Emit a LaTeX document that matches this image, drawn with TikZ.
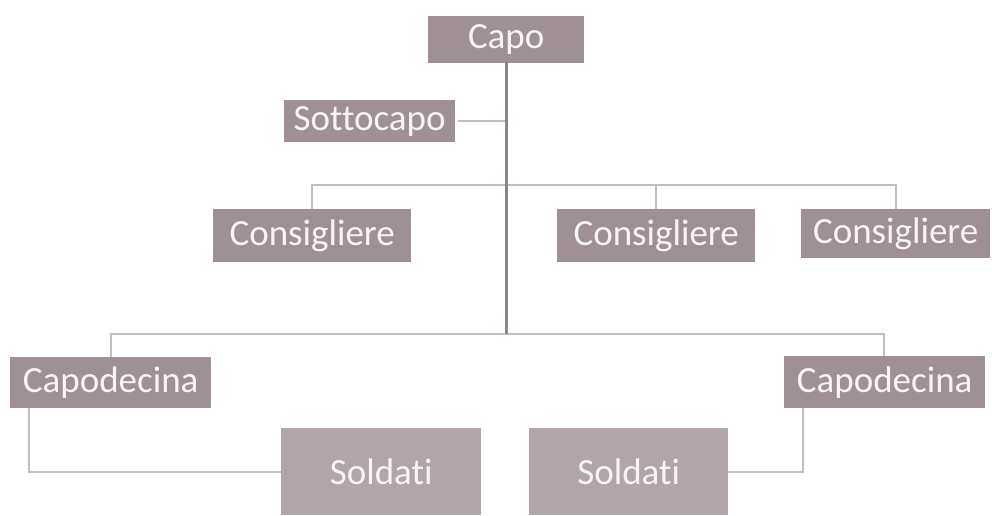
\documentclass[tikz,border=0pt]{standalone}
\usepackage{fontspec}
\setmainfont{Carlito}[Ligatures={NoCommon}]
\usetikzlibrary{positioning,calc}
\definecolor{rangbox}{HTML}{9E9094}
\definecolor{soldbox}{HTML}{B1A5A9}
\definecolor{troncoline}{HTML}{8E8488}
\definecolor{ramoline}{HTML}{C3BEC0}
\definecolor{rangtext}{HTML}{F8F4F4}

\begin{document}
\begin{tikzpicture}[
  x=1pt, y=-1pt,
  every node/.style={font=\fontsize{37}{40}\selectfont},
  rang/.style={fill=rangbox, text=rangtext, inner sep=0pt, anchor=north west,
    minimum width=#1, minimum height=50pt},
  soldati/.style={fill=soldbox, text=rangtext, inner sep=0pt, anchor=north west,
    minimum width=200pt, minimum height=87pt},
  tronco/.style={draw=troncoline, line width=2.6pt},
  ramo/.style={draw=ramoline, line width=1.8pt}
]
\useasboundingbox (0,0) rectangle (992,515);
\node[rang=156pt, minimum height=47pt] (Capo) at (428,16) {Capo};
\node[rang=171pt, minimum height=42pt] (Sottocapo) at (284,100) {Sottocapo};
\node[rang=198pt, minimum height=53pt] (ConsigliereA) at (213,209) {Consigliere};
\node[rang=198pt, minimum height=53pt] (ConsigliereB) at (557,209) {Consigliere};
\node[rang=189pt, minimum height=49pt] (ConsigliereC) at (801,209) {Consigliere};
\node[rang=201pt, minimum height=51pt] (CapodecinaA) at (10,357) {Capodecina};
\node[rang=201pt, minimum height=52pt] (CapodecinaB) at (784,356) {Capodecina};
\node[soldati] (SoldatiA) at (281,428) {Soldati};
\node[soldati, minimum width=199pt] (SoldatiB) at (529,428) {Soldati};
\coordinate (binario1) at (0,185);
\coordinate (binario2) at (0,334);
% linee dei ranghi
\draw[ramo] (ConsigliereA.north) -- (ConsigliereA.north |- binario1) -- (ConsigliereC.north |- binario1) -- (ConsigliereC.north);
\draw[ramo] (ConsigliereB.north) -- (ConsigliereB.north |- binario1);
\draw[ramo] (CapodecinaA.north) -- (CapodecinaA.north |- binario2) -- ([xshift=-1pt]CapodecinaB.north |- binario2) -- ([xshift=-1pt]CapodecinaB.north);
\draw[ramo] (Sottocapo.east) ++(3,0) -- (Sottocapo.east -| Capo.south);
\draw[ramo] ([xshift=19pt]CapodecinaA.south west) |- (SoldatiA.west);
\draw[ramo] ([xshift=19pt]CapodecinaB.south west) |- (SoldatiB.east);
\draw[tronco] ([yshift=2pt]Capo.south) -- (Capo.south |- binario2);
\end{tikzpicture}
\end{document}
